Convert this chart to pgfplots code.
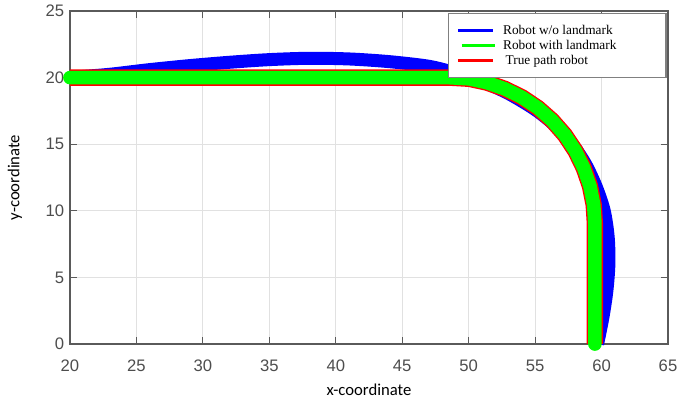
\documentclass[border=0pt]{standalone}
\usepackage{fontspec}
\setmainfont{Liberation Sans}
\newfontfamily\legfont{Liberation Serif}
\newfontfamily\labfont{Carlito}
\usepackage{pgfplots}
\pgfplotsset{compat=1.18}
\definecolor{tickgray}{RGB}{77,77,77}
\definecolor{gridgray}{RGB}{225,225,225}
\definecolor{axgray}{RGB}{90,90,90}
\definecolor{mblue}{RGB}{0,0,255}
\definecolor{mgreen}{RGB}{0,255,0}
\definecolor{mred}{RGB}{255,0,0}
\newcommand{\lstrut}{\rule[-3pt]{0pt}{9.4pt}}
\begin{document}
\begin{tikzpicture}
\begin{axis}[
 name=ax,
 scale only axis, width=358.8pt, height=199.8pt,
 xmin=20,xmax=65,ymin=0,ymax=25,
 xtick={20,25,...,65}, ytick={0,5,...,25},
 grid=major, major grid style={gridgray, line width=0.6pt},
 axis line style={axgray, line width=0.8pt},
 tick style={axgray, line width=0.6pt}, major tick length=4pt,
 tick label style={font=\fontsize{10}{12}\selectfont, text=tickgray},
 xticklabel style={yshift=-6pt},
 /pgf/number format/assume math mode=true,
 xlabel={x-coordinate}, ylabel={y-coordinate},
 label style={font=\labfont\fontsize{10}{12}\selectfont},
 xlabel style={at={(axis description cs:0.5,-0.138)}, anchor=center},
 ylabel style={at={(axis description cs:-0.092,0.5)}, anchor=center},
 clip=false,
 legend style={at={(0.998,0.994)}, anchor=north east, draw=gray, fill=white,
   font=\legfont\fontsize{8}{9.3}\selectfont, inner xsep=4.8pt, inner ysep=6.2pt,
   row sep=1pt, line width=0.8pt, nodes={inner ysep=0pt}},
 legend cell align=left,
]
\addlegendimage{legend image code/.code={\draw[mblue,line width=1.8pt](0pt,0pt)--(21pt,0pt);}}
\addlegendentry{\makebox[93pt][l]{\lstrut\hspace{2pt}Robot w/o landmark}}
\addlegendimage{legend image code/.code={\draw[mgreen,line width=1.8pt](2pt,0pt)--(22pt,0pt);}}
\addlegendentry{\makebox[93pt][l]{\lstrut\hspace{2pt}Robot with landmark}}
\addlegendimage{legend image code/.code={\draw[mred,line width=1.8pt](0pt,0pt)--(21pt,0pt);}}
\addlegendentry{\makebox[93pt][l]{\lstrut\hspace{3.5pt}True path robot}}

\addplot[mblue, line width=7.8pt, smooth, forget plot] coordinates {
(20.5,20.05)(23,20.25)(26,20.6)(29,20.9)(32,21.15)(35,21.35)(38,21.45)(41,21.4)(44,21.2)(47,20.85)
(49,20.35)(51,19.7)(53,18.8)(55,17.6)(56.5,16.4)(57.8,15)(58.8,13.5)(59.6,11.8)
(60.2,10)(60.5,8)(60.55,6)(60.4,4)(60.1,2)(59.7,0)};

\addplot[mred, line width=9.8pt, line join=round, forget plot] coordinates {
(20,20)(48.5,20)(50.04,19.91)(51.35,19.63)(52.71,19.16)(54.0,18.53)(55.2,17.73)
(56.28,16.78)(57.23,15.7)(58.03,14.5)(58.66,13.21)(59.13,11.85)(59.41,10.44)(59.5,9)(59.5,0)};

\addplot[mgreen, line width=8.2pt, line join=round, line cap=round, forget plot] coordinates {
(20,20)(48.5,20)(50.04,19.91)(51.35,19.63)(52.71,19.16)(54.0,18.53)(55.2,17.73)
(56.28,16.78)(57.23,15.7)(58.03,14.5)(58.66,13.21)(59.13,11.85)(59.41,10.44)(59.5,9)(59.5,0)};
\end{axis}
\pgfresetboundingbox
\path ([xshift=-42pt,yshift=-35.4pt]ax.south west) rectangle ([xshift=6pt,yshift=6.6pt]ax.north east);
\end{tikzpicture}
\end{document}
